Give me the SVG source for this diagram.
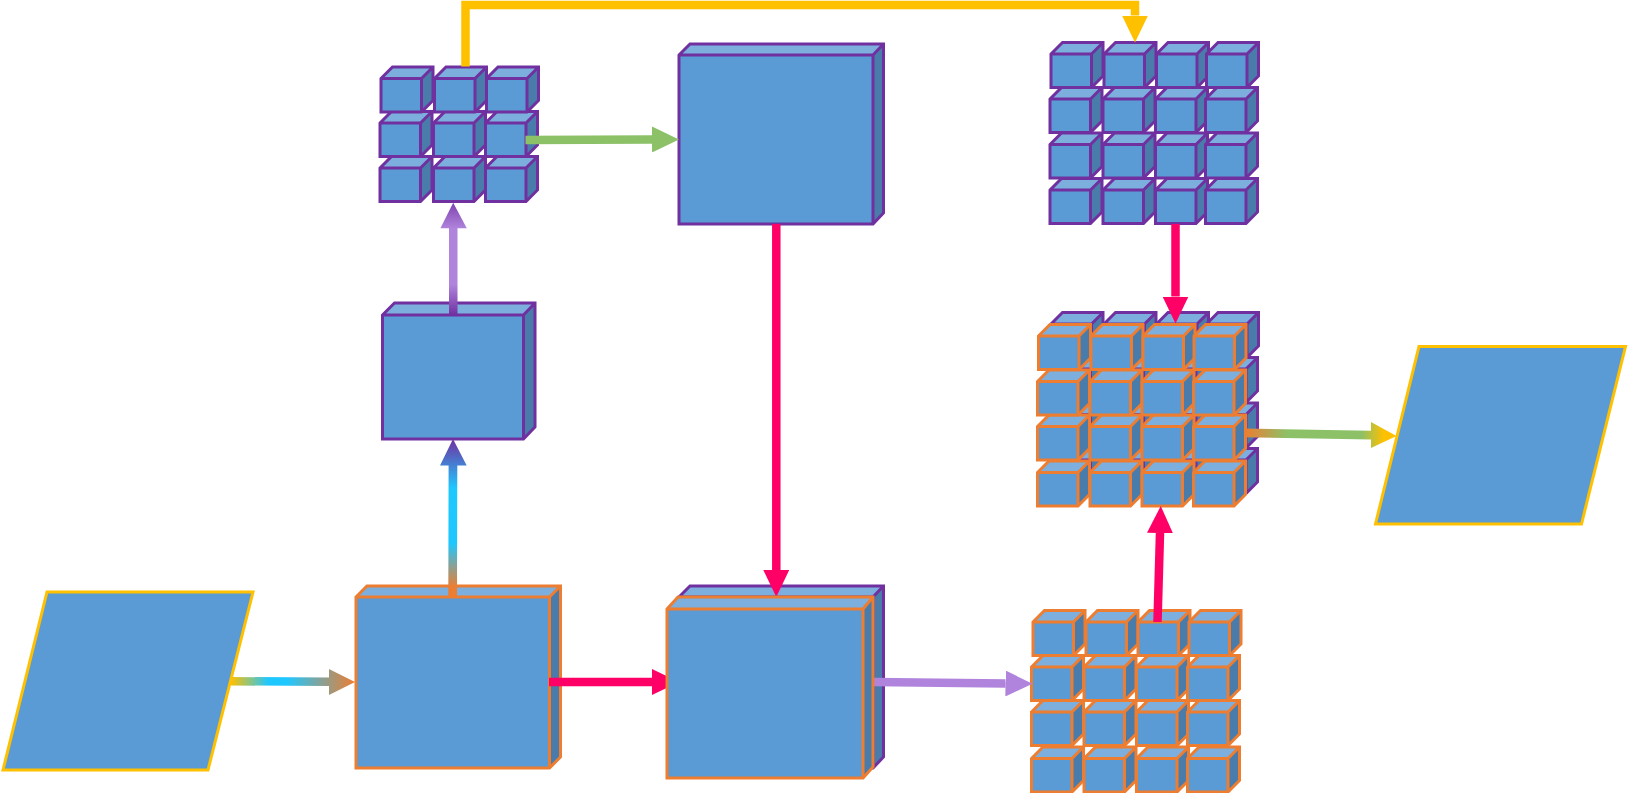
<svg xmlns="http://www.w3.org/2000/svg" xmlns:xlink="http://www.w3.org/1999/xlink" width="1628" height="793" viewBox="0 0 1628 793">
<style>
.front{fill:#5B9BD5;stroke:none}.top{fill:#7CAFDD;stroke:none}.side{fill:#497CAA;stroke:none}
.line{fill:none}
.p{stroke:#7030A0;stroke-width:3}.o{stroke:#ED7D31;stroke-width:3}
.para{fill:#5B9BD5;stroke:#FFC000;stroke-width:3}
.c{fill:none;stroke-width:8.5}
</style>
<defs>
<g id="cube"><path class="top" d="M0 0L11.5-11.5H52L40.5 0Z"/><path class="side" d="M40.5 0L52-11.5V22L40.5 33.5Z"/><rect class="front" width="40.5" height="33.5"/><path class="line" d="M0 0L11.5-11.5H52V22L40.5 33.5H0ZM0 0H40.5V33.5M40.5 0L52-11.5"/></g>
<marker id="mPink" viewBox="0 0 27 26" markerUnits="userSpaceOnUse" markerWidth="27" markerHeight="26" refX="0" refY="13" orient="auto"><path d="M0 0L27 13L0 26Z" fill="#FF0066"/></marker>
<marker id="mGreen" viewBox="0 0 27 26" markerUnits="userSpaceOnUse" markerWidth="27" markerHeight="26" refX="0" refY="13" orient="auto"><path d="M0 0L27 13L0 26Z" fill="#8CC168"/></marker>
<marker id="mLilac" viewBox="0 0 27 26" markerUnits="userSpaceOnUse" markerWidth="27" markerHeight="26" refX="0" refY="13" orient="auto"><path d="M0 0L27 13L0 26Z" fill="#B084DC"/></marker>
<marker id="mYellow" viewBox="0 0 27 26" markerUnits="userSpaceOnUse" markerWidth="27" markerHeight="26" refX="0" refY="13" orient="auto"><path d="M0 0L27 13L0 26Z" fill="#FFC000"/></marker>
<linearGradient id="g1" gradientUnits="userSpaceOnUse" x1="231" y1="681" x2="355" y2="682"><stop offset="0" stop-color="#FFC000"/><stop offset=".3" stop-color="#1FC7FF"/><stop offset=".45" stop-color="#1FC7FF"/><stop offset="1" stop-color="#ED7D31"/></linearGradient>
<linearGradient id="g2" gradientUnits="userSpaceOnUse" x1="453" y1="597" x2="453" y2="439"><stop offset="0" stop-color="#ED7D31"/><stop offset=".06" stop-color="#ED7D31"/><stop offset=".34" stop-color="#1FC7FF"/><stop offset=".69" stop-color="#1FC7FF"/><stop offset="1" stop-color="#7030A0"/></linearGradient>
<linearGradient id="g3" gradientUnits="userSpaceOnUse" x1="453" y1="315" x2="453" y2="202.7"><stop offset="0" stop-color="#7030A0"/><stop offset=".27" stop-color="#B084DC"/><stop offset=".77" stop-color="#B084DC"/><stop offset="1" stop-color="#7E42AE"/></linearGradient>
<linearGradient id="g4" gradientUnits="userSpaceOnUse" x1="1245" y1="433" x2="1396" y2="436"><stop offset="0" stop-color="#ED7D31"/><stop offset=".28" stop-color="#8CC168"/><stop offset=".77" stop-color="#8CC168"/><stop offset=".92" stop-color="#FFC000"/><stop offset="1" stop-color="#FFC000"/></linearGradient>
</defs>
<g id="input-left"><path class="para" d="M47 592H253L208 770H3Z"/></g>
<g id="box-orange" class="o"><path class="top" d="M356 597L367 586H560.5L549.5 597Z"/><path class="side" d="M549.5 597L560.5 586V757L549.5 768Z"/><rect class="front" x="356" y="597" width="193.5" height="171"/><path class="line" d="M356 597L367 586H560.5V757L549.5 768H356ZM356 597H549.5V768M549.5 597L560.5 586"/></g>
<g id="box-purple-mid" class="p"><path class="top" d="M382.500 315L394.500 303H535L523.500 315Z"/><path class="side" d="M523.500 315L535 303V427L523.500 439Z"/><rect class="front" x="382.500" y="315" width="141" height="124"/><path class="line" d="M382.500 315L394.500 303H535V427L523.500 439H382.500ZM382.500 315H523.500V439M523.500 315L535 303"/></g>
<g id="box-purple-big" class="p"><path class="top" d="M679 55L690 44H883.500L873 55Z"/><path class="side" d="M873 55L883.500 44V213L873 224Z"/><rect class="front" x="679" y="55" width="194" height="169"/><path class="line" d="M679 55L690 44H883.500V213L873 224H679ZM679 55H873V224M873 55L883.500 44"/></g>
<g id="grid-3x3" class="p">
<use xlink:href="#cube" x="380" y="168"/><use xlink:href="#cube" x="433.500" y="168"/><use xlink:href="#cube" x="485.500" y="168"/>
<use xlink:href="#cube" x="380" y="123"/><use xlink:href="#cube" x="433.500" y="123"/><use xlink:href="#cube" x="485.500" y="123"/>
<use xlink:href="#cube" x="381" y="78.500"/><use xlink:href="#cube" x="434.500" y="78.500"/><use xlink:href="#cube" x="486.500" y="78.500"/>
</g>
<g id="grid-purple-top" class="p">
<use xlink:href="#cube" x="1050" y="190"/><use xlink:href="#cube" x="1103" y="190"/><use xlink:href="#cube" x="1155.500" y="190"/><use xlink:href="#cube" x="1205.500" y="190"/>
<use xlink:href="#cube" x="1050" y="144.500"/><use xlink:href="#cube" x="1103" y="144.500"/><use xlink:href="#cube" x="1155.500" y="144.500"/><use xlink:href="#cube" x="1205.500" y="144.500"/>
<use xlink:href="#cube" x="1050" y="99"/><use xlink:href="#cube" x="1103" y="99"/><use xlink:href="#cube" x="1155.500" y="99"/><use xlink:href="#cube" x="1205.500" y="99"/>
<use xlink:href="#cube" x="1051" y="54"/><use xlink:href="#cube" x="1104" y="54"/><use xlink:href="#cube" x="1156.500" y="54"/><use xlink:href="#cube" x="1206.500" y="54"/>
</g>
<g id="grid-purple-back" class="p">
<use xlink:href="#cube" x="1050" y="460"/><use xlink:href="#cube" x="1103" y="460"/><use xlink:href="#cube" x="1155.500" y="460"/><use xlink:href="#cube" x="1205.500" y="460"/>
<use xlink:href="#cube" x="1050" y="414.500"/><use xlink:href="#cube" x="1103" y="414.500"/><use xlink:href="#cube" x="1155.500" y="414.500"/><use xlink:href="#cube" x="1205.500" y="414.500"/>
<use xlink:href="#cube" x="1050" y="369"/><use xlink:href="#cube" x="1103" y="369"/><use xlink:href="#cube" x="1155.500" y="369"/><use xlink:href="#cube" x="1205.500" y="369"/>
<use xlink:href="#cube" x="1051" y="324"/><use xlink:href="#cube" x="1104" y="324"/><use xlink:href="#cube" x="1156.500" y="324"/><use xlink:href="#cube" x="1206.500" y="324"/>
</g>
<g id="grid-orange-front" class="o">
<use xlink:href="#cube" x="1037.500" y="472.500"/><use xlink:href="#cube" x="1090" y="472.500"/><use xlink:href="#cube" x="1142" y="472.500"/><use xlink:href="#cube" x="1193.500" y="472.500"/>
<use xlink:href="#cube" x="1037.500" y="426.500"/><use xlink:href="#cube" x="1090" y="426.500"/><use xlink:href="#cube" x="1142" y="426.500"/><use xlink:href="#cube" x="1193.500" y="426.500"/>
<use xlink:href="#cube" x="1037.500" y="381.500"/><use xlink:href="#cube" x="1090" y="381.500"/><use xlink:href="#cube" x="1142" y="381.500"/><use xlink:href="#cube" x="1193.500" y="381.500"/>
<use xlink:href="#cube" x="1038.500" y="336"/><use xlink:href="#cube" x="1091" y="336"/><use xlink:href="#cube" x="1143" y="336"/><use xlink:href="#cube" x="1194" y="336"/>
</g>
<g id="grid-orange-bottom" class="o">
<use xlink:href="#cube" x="1031.500" y="758.500"/><use xlink:href="#cube" x="1084" y="758.500"/><use xlink:href="#cube" x="1136.500" y="758.500"/><use xlink:href="#cube" x="1187.500" y="758.500"/>
<use xlink:href="#cube" x="1031.500" y="712"/><use xlink:href="#cube" x="1084" y="712"/><use xlink:href="#cube" x="1136.500" y="712"/><use xlink:href="#cube" x="1187.500" y="712"/>
<use xlink:href="#cube" x="1031.500" y="667"/><use xlink:href="#cube" x="1084" y="667"/><use xlink:href="#cube" x="1136.500" y="667"/><use xlink:href="#cube" x="1187.500" y="667"/>
<use xlink:href="#cube" x="1033" y="622"/><use xlink:href="#cube" x="1086" y="622"/><use xlink:href="#cube" x="1138" y="622"/><use xlink:href="#cube" x="1189" y="622"/>
</g>
<g id="output-right"><path class="para" d="M1419 346.500H1625.500L1581.500 524H1375.500Z"/></g>
<g id="box-purple-back" class="p"><path class="top" d="M679 597L690 586H883.500L873 597Z"/><path class="side" d="M873 597L883.500 586V757L873 768Z"/><rect class="front" x="679" y="597" width="194" height="171"/><path class="line" d="M679 597L690 586H883.500V757L873 768H679ZM679 597H873V768M873 597L883.500 586"/></g>
<g id="connectors">
<path class="c" stroke="#FFC000" stroke-linejoin="miter" marker-end="url(#mYellow)" d="M465.500 66.500V5H1135V15.500"/>
<line class="c" x1="525.500" y1="140" x2="652" y2="139.500" stroke="#8CC168" marker-end="url(#mGreen)"/>
<line class="c" x1="776.300" y1="224" x2="776.300" y2="570" stroke="#FF0066" marker-end="url(#mPink)"/>
<line class="c" x1="1175.500" y1="224" x2="1175.500" y2="296.500" stroke="#FF0066" marker-end="url(#mPink)"/>
<line class="c" x1="1157.500" y1="622" x2="1160" y2="533" stroke="#FF0066" marker-end="url(#mPink)"/>
<line class="c" x1="549" y1="682" x2="652" y2="682" stroke="#FF0066" marker-end="url(#mPink)"/>
<line class="c" x1="873.500" y1="682" x2="1005.500" y2="683.500" stroke="#B084DC" marker-end="url(#mLilac)"/>
<path fill="url(#g1)" d="M231 677L329 677.500V669L355 682L329 695V686L231 685.500Z"/>
<path fill="url(#g2)" d="M448.300 597L448.600 465.500H440L453 439L466.700 465.500H457.300L457 597Z"/>
<path fill="url(#g3)" d="M449 315V228.300H440.400L453.200 202.700L466.800 228.300H457.500V315Z"/>
<path fill="url(#g4)" d="M1245 428.500L1371 430.800V422L1396.500 436L1371 448V439.500L1245 437.200Z"/>
</g>
<g id="box-orange-front" class="o"><path class="top" d="M667 609L678 597H873L863 609Z"/><path class="side" d="M863 609L873 597V767L863 778Z"/><rect class="front" x="667" y="609" width="196" height="169"/><path class="line" d="M667 609L678 597H873V767L863 778H667ZM667 609H863V778M863 609L873 597"/></g>
</svg>
